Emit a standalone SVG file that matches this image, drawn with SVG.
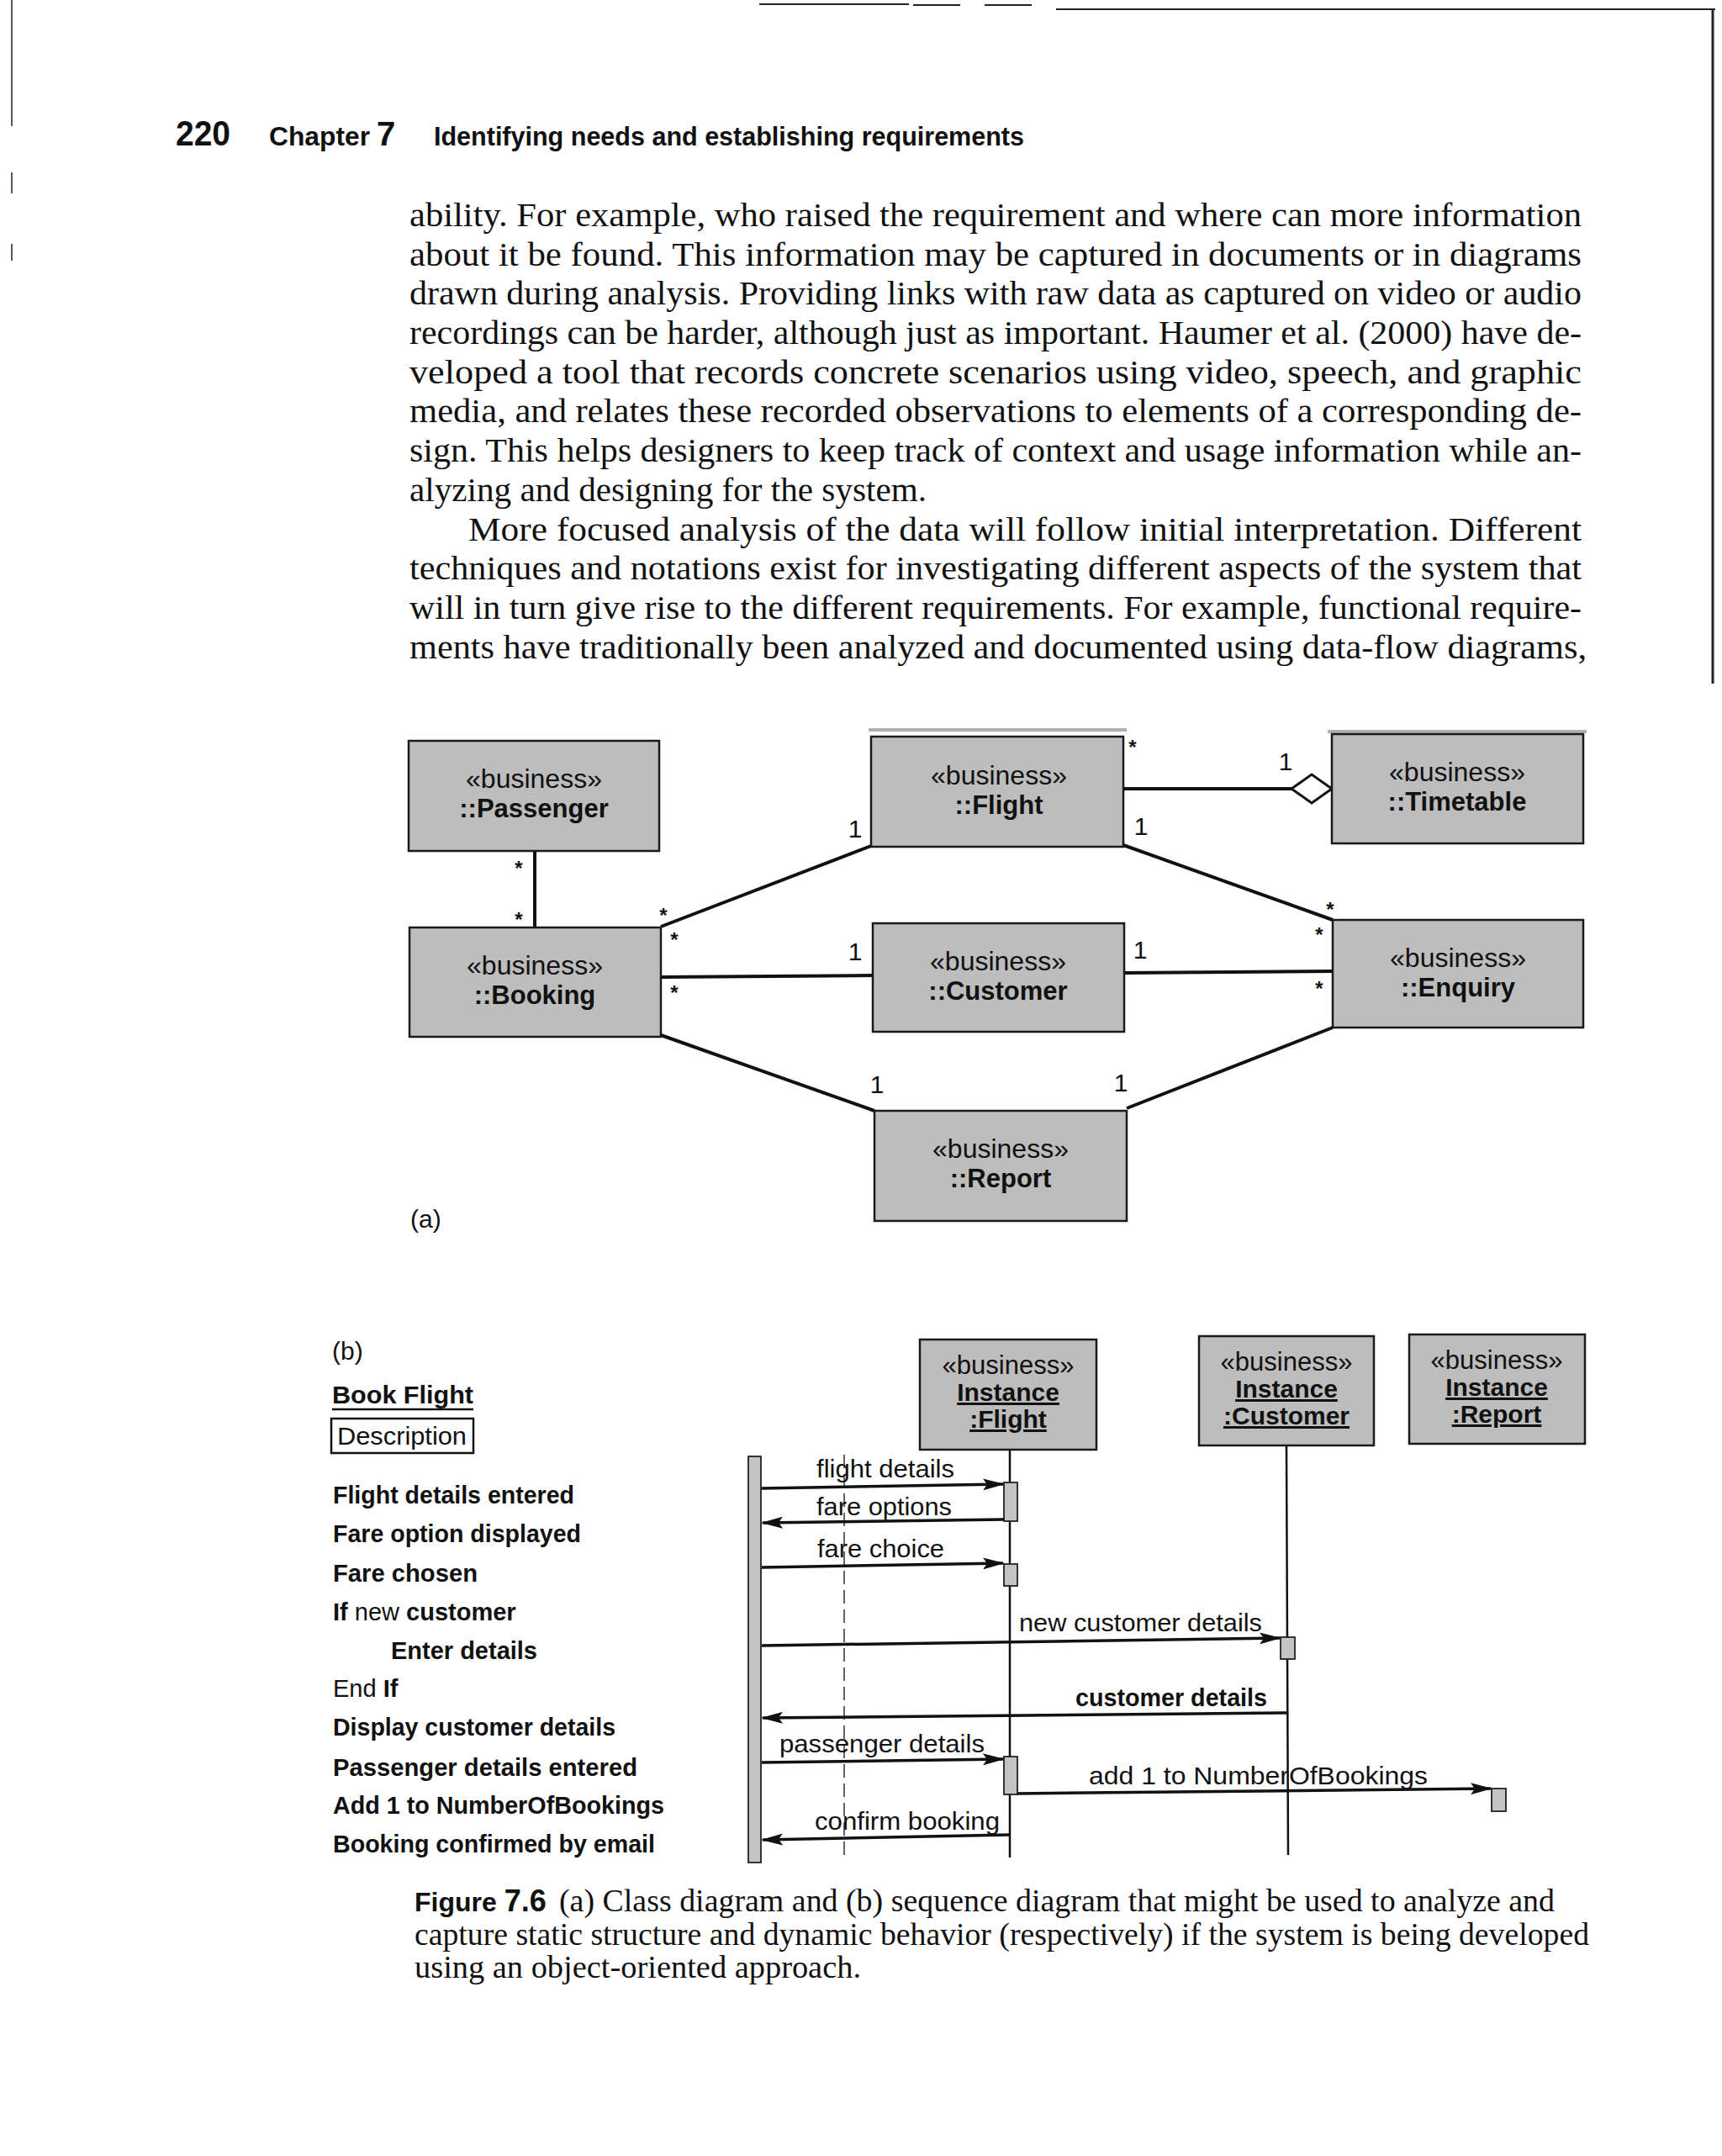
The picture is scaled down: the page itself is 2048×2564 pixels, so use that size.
<svg xmlns="http://www.w3.org/2000/svg" width="2048" height="2564" viewBox="0 0 2048 2564">
<style>
.serif{font-family:"Liberation Serif","Times New Roman",serif;font-size:39px;fill:#111}
.cap{font-family:"Liberation Serif","Times New Roman",serif;font-size:38px;fill:#111}
.hd{font-family:"Liberation Sans",Arial,sans-serif;font-weight:bold;fill:#111}
.box{fill:#bdbdbd;stroke:#1a1a1a;stroke-width:2.5}
.act{fill:#c4c4c4;stroke:#222;stroke-width:1.8}
.st{font-family:"Liberation Sans",Arial,sans-serif;font-size:32px;fill:#111;text-anchor:middle}
.nm{font-family:"Liberation Sans",Arial,sans-serif;font-size:31px;font-weight:bold;fill:#111;text-anchor:middle}
.inm{font-family:"Liberation Sans",Arial,sans-serif;font-size:30px;font-weight:bold;fill:#111;text-anchor:middle;text-decoration:underline}
.ist{font-family:"Liberation Sans",Arial,sans-serif;font-size:31px;fill:#111;text-anchor:middle}
.mul{font-family:"Liberation Sans",Arial,sans-serif;font-size:30px;fill:#111;text-anchor:middle}
.star{font-family:"Liberation Sans",Arial,sans-serif;font-size:24px;font-weight:bold;fill:#111;text-anchor:middle}
.assoc{stroke:#111;stroke-width:4;fill:none}
.msg{stroke:#111;stroke-width:3.5;fill:none;marker-end:url(#arr)}
.lbl{font-family:"Liberation Sans",Arial,sans-serif;font-size:30px;fill:#111}
.lt{font-family:"Liberation Sans",Arial,sans-serif;font-size:29px;font-weight:bold;fill:#111}
.edge{stroke:#222;fill:none}
</style>
<defs>
<marker id="arr" markerUnits="userSpaceOnUse" markerWidth="26" markerHeight="14" refX="24" refY="7" orient="auto">
<path d="M0,0 L26,7 L0,14 L5,7 Z" fill="#111"/>
</marker>
</defs>
<rect width="2048" height="2564" fill="#ffffff"/>

<!-- page edges (scan) -->
<g id="page-edges">
<line class="edge" x1="903" y1="5" x2="1081" y2="5" stroke-width="2"/>
<line class="edge" x1="1086" y1="6" x2="1142" y2="6" stroke-width="2"/>
<line class="edge" x1="1171" y1="6" x2="1227" y2="6" stroke-width="2"/>
<line class="edge" x1="1256" y1="11" x2="2040" y2="11" stroke-width="2"/>
<line class="edge" x1="2037" y1="11" x2="2037" y2="813" stroke-width="3"/>
<line class="edge" x1="14" y1="0" x2="14" y2="150" stroke-width="1.5"/>
<line class="edge" x1="14" y1="205" x2="14" y2="230" stroke-width="1.5"/>
<line class="edge" x1="14" y1="290" x2="14" y2="310" stroke-width="1.5"/>
</g>

<!-- header -->
<g id="header">
<text class="hd" x="209" y="173" font-size="42" textLength="65" lengthAdjust="spacingAndGlyphs">220</text>
<text class="hd" x="320" y="173" font-size="32" textLength="120" lengthAdjust="spacingAndGlyphs">Chapter</text>
<text class="hd" x="448" y="173" font-size="40">7</text>
<text class="hd" x="516" y="173" font-size="32" textLength="702" lengthAdjust="spacingAndGlyphs">Identifying needs and establishing requirements</text>
</g>

<!-- body text -->
<g id="body-text">
<text class="serif" x="487" y="269" textLength="1394" lengthAdjust="spacingAndGlyphs">ability. For example, who raised the requirement and where can more information</text>
<text class="serif" x="487" y="316" textLength="1394" lengthAdjust="spacingAndGlyphs">about it be found. This information may be captured in documents or in diagrams</text>
<text class="serif" x="487" y="362" textLength="1394" lengthAdjust="spacingAndGlyphs">drawn during analysis. Providing links with raw data as captured on video or audio</text>
<text class="serif" x="487" y="409" textLength="1394" lengthAdjust="spacingAndGlyphs">recordings can be harder, although just as important. Haumer et al. (2000) have de-</text>
<text class="serif" x="487" y="456" textLength="1394" lengthAdjust="spacingAndGlyphs">veloped a tool that records concrete scenarios using video, speech, and graphic</text>
<text class="serif" x="487" y="502" textLength="1394" lengthAdjust="spacingAndGlyphs">media, and relates these recorded observations to elements of a corresponding de-</text>
<text class="serif" x="487" y="549" textLength="1394" lengthAdjust="spacingAndGlyphs">sign. This helps designers to keep track of context and usage information while an-</text>
<text class="serif" x="487" y="596" textLength="615" lengthAdjust="spacingAndGlyphs">alyzing and designing for the system.</text>
<text class="serif" x="557" y="643" textLength="1324" lengthAdjust="spacingAndGlyphs">More focused analysis of the data will follow initial interpretation. Different</text>
<text class="serif" x="487" y="689" textLength="1394" lengthAdjust="spacingAndGlyphs">techniques and notations exist for investigating different aspects of the system that</text>
<text class="serif" x="487" y="736" textLength="1394" lengthAdjust="spacingAndGlyphs">will in turn give rise to the different requirements. For example, functional require-</text>
<text class="serif" x="487" y="783" textLength="1400" lengthAdjust="spacingAndGlyphs">ments have traditionally been analyzed and documented using data-flow diagrams,</text>
</g>

<!-- (a) class diagram -->
<line x1="1033" y1="868" x2="1340" y2="868" stroke="#b0b0b0" stroke-width="4"/>
<line x1="1579" y1="870" x2="1887" y2="870" stroke="#b0b0b0" stroke-width="4"/>

<g id="class-connectors">
<line class="assoc" x1="636" y1="1012" x2="636" y2="1103" stroke-width="3"/>
<line class="assoc" x1="1336" y1="938" x2="1536" y2="938"/>
<polygon points="1536,938 1560,921 1584,938 1560,955" fill="#ffffff" stroke="#111" stroke-width="3"/>
<line class="assoc" x1="1036" y1="1006" x2="786" y2="1102"/>
<line class="assoc" x1="1336" y1="1005" x2="1585" y2="1094"/>
<line class="assoc" x1="786" y1="1162" x2="1038" y2="1160"/>
<line class="assoc" x1="1337" y1="1157" x2="1585" y2="1155"/>
<line class="assoc" x1="786" y1="1231" x2="1040" y2="1321"/>
<line class="assoc" x1="1585" y1="1222" x2="1340" y2="1318"/>
<text class="star" x="1347" y="897">*</text>
<text class="mul" x="1529" y="916">1</text>
<text class="mul" x="1017" y="996">1</text>
<text class="mul" x="1357" y="993">1</text>
<text class="star" x="617" y="1041">*</text>
<text class="star" x="617" y="1102">*</text>
<text class="star" x="789" y="1097">*</text>
<text class="star" x="802" y="1126">*</text>
<text class="star" x="802" y="1189">*</text>
<text class="mul" x="1017" y="1142">1</text>
<text class="mul" x="1356" y="1140">1</text>
<text class="star" x="1582" y="1090">*</text>
<text class="star" x="1569" y="1120">*</text>
<text class="star" x="1569" y="1184">*</text>
<text class="mul" x="1043" y="1300">1</text>
<text class="mul" x="1333" y="1298">1</text>
</g>

<g id="node-passenger">
<rect class="box" x="486" y="881" width="298" height="131"/>
<text class="st" x="635" y="937">«business»</text>
<text class="nm" x="635" y="972">::Passenger</text>
</g>
<g id="node-flight">
<rect class="box" x="1036" y="876" width="300" height="131"/>
<text class="st" x="1188" y="933">«business»</text>
<text class="nm" x="1188" y="968">::Flight</text>
</g>
<g id="node-timetable">
<rect class="box" x="1584" y="873" width="299" height="130"/>
<text class="st" x="1733" y="929">«business»</text>
<text class="nm" x="1733" y="964">::Timetable</text>
</g>
<g id="node-booking">
<rect class="box" x="487" y="1103" width="299" height="130"/>
<text class="st" x="636" y="1159">«business»</text>
<text class="nm" x="636" y="1194">::Booking</text>
</g>
<g id="node-customer">
<rect class="box" x="1038" y="1098" width="299" height="129"/>
<text class="st" x="1187" y="1154">«business»</text>
<text class="nm" x="1187" y="1189">::Customer</text>
</g>
<g id="node-enquiry">
<rect class="box" x="1585" y="1094" width="298" height="128"/>
<text class="st" x="1734" y="1150">«business»</text>
<text class="nm" x="1734" y="1185">::Enquiry</text>
</g>
<g id="node-report">
<rect class="box" x="1040" y="1321" width="300" height="131"/>
<text class="st" x="1190" y="1377">«business»</text>
<text class="nm" x="1190" y="1412">::Report</text>
</g>
<text class="lbl" x="488" y="1460">(a)</text>

<!-- (b) sequence diagram -->
<g id="use-case-text">
<text class="lbl" x="395" y="1617">(b)</text>
<text class="lt" x="395" y="1669" font-size="30" textLength="168" lengthAdjust="spacingAndGlyphs">Book Flight</text>
<line x1="395" y1="1676" x2="563" y2="1676" stroke="#111" stroke-width="2.5"/>
<rect x="394" y="1687" width="169" height="41" fill="none" stroke="#111" stroke-width="2.5"/>
<text class="lbl" x="401" y="1718" textLength="154" lengthAdjust="spacingAndGlyphs">Description</text>
<text class="lt" x="396" y="1788" textLength="287" lengthAdjust="spacingAndGlyphs">Flight details entered</text>
<text class="lt" x="396" y="1834" textLength="295" lengthAdjust="spacingAndGlyphs">Fare option displayed</text>
<text class="lt" x="396" y="1881" textLength="172" lengthAdjust="spacingAndGlyphs">Fare chosen</text>
<text class="lt" x="396" y="1927">If<tspan font-weight="normal"> new</tspan> customer</text>
<text class="lt" x="465" y="1973" textLength="174" lengthAdjust="spacingAndGlyphs">Enter details</text>
<text class="lt" x="396" y="2018"><tspan font-weight="normal">End</tspan> If</text>
<text class="lt" x="396" y="2064" textLength="336" lengthAdjust="spacingAndGlyphs">Display customer details</text>
<text class="lt" x="396" y="2112" textLength="362" lengthAdjust="spacingAndGlyphs">Passenger details entered</text>
<text class="lt" x="396" y="2157" font-weight="normal" textLength="394" lengthAdjust="spacingAndGlyphs">Add 1 to NumberOfBookings</text>
<text class="lt" x="396" y="2203" textLength="383" lengthAdjust="spacingAndGlyphs">Booking confirmed by email</text>
</g>

<g id="seq-lifelines">
<line x1="1004" y1="1730" x2="1004" y2="2209" stroke="#333" stroke-width="1.5" stroke-dasharray="16 7"/>
<line x1="1201" y1="1724" x2="1201" y2="2209" stroke="#111" stroke-width="2.5"/>
<line x1="1530" y1="1719" x2="1532" y2="2206" stroke="#111" stroke-width="2.5"/>
</g>

<g id="node-actor-bar">
<rect class="act" x="890" y="1732" width="15" height="483"/>
</g>
<g id="node-inst-flight">
<rect class="box" x="1094" y="1593" width="210" height="131"/>
<text class="ist" x="1199" y="1634">«business»</text>
<text class="inm" x="1199" y="1666">Instance</text>
<text class="inm" x="1199" y="1698">:Flight</text>
</g>
<g id="node-inst-customer">
<rect class="box" x="1426" y="1589" width="208" height="130"/>
<text class="ist" x="1530" y="1630">«business»</text>
<text class="inm" x="1530" y="1662">Instance</text>
<text class="inm" x="1530" y="1694">:Customer</text>
</g>
<g id="node-inst-report">
<rect class="box" x="1676" y="1587" width="209" height="130"/>
<text class="ist" x="1780" y="1628">«business»</text>
<text class="inm" x="1780" y="1660">Instance</text>
<text class="inm" x="1780" y="1692">:Report</text>
</g>

<g id="seq-activations">
<rect class="act" x="1194" y="1763" width="16" height="46"/>
<rect class="act" x="1194" y="1860" width="16" height="26"/>
<rect class="act" x="1194" y="2089" width="16" height="45"/>
<rect class="act" x="1523" y="1947" width="17" height="26"/>
<rect class="act" x="1774" y="2127" width="17" height="27"/>
</g>

<g id="seq-messages">
<line class="msg" x1="906" y1="1770" x2="1193" y2="1765"/>
<line class="msg" x1="1194" y1="1807" x2="907" y2="1811"/>
<line class="msg" x1="906" y1="1864" x2="1193" y2="1859"/>
<line class="msg" x1="906" y1="1957" x2="1522" y2="1948"/>
<line class="msg" x1="1531" y1="2037" x2="907" y2="2043"/>
<line class="msg" x1="906" y1="2096" x2="1193" y2="2092"/>
<line class="msg" x1="1210" y1="2133" x2="1773" y2="2127"/>
<line class="msg" x1="1201" y1="2182" x2="907" y2="2188"/>
<text class="lbl" x="971" y="1757" textLength="164" lengthAdjust="spacingAndGlyphs">flight details</text>
<text class="lbl" x="971" y="1802" textLength="161" lengthAdjust="spacingAndGlyphs">fare options</text>
<text class="lbl" x="972" y="1852" textLength="151" lengthAdjust="spacingAndGlyphs">fare choice</text>
<text class="lbl" x="1212" y="1940" textLength="289" lengthAdjust="spacingAndGlyphs">new customer details</text>
<text class="lbl" x="1279" y="2029" font-weight="bold" textLength="228" lengthAdjust="spacingAndGlyphs">customer details</text>
<text class="lbl" x="927" y="2084" textLength="244" lengthAdjust="spacingAndGlyphs">passenger details</text>
<text class="lbl" x="1295" y="2122" textLength="403" lengthAdjust="spacingAndGlyphs">add 1 to NumberOfBookings</text>
<text class="lbl" x="969" y="2176" textLength="220" lengthAdjust="spacingAndGlyphs">confirm booking</text>
</g>

<!-- caption -->
<g id="caption">
<text class="hd" x="493" y="2273" font-size="32">Figure <tspan font-size="36">7.6</tspan></text>
<text class="cap" x="665" y="2273" textLength="1184" lengthAdjust="spacingAndGlyphs">(a) Class diagram and (b) sequence diagram that might be used to analyze and</text>
<text class="cap" x="493" y="2313" textLength="1397" lengthAdjust="spacingAndGlyphs">capture static structure and dynamic behavior (respectively) if the system is being developed</text>
<text class="cap" x="493" y="2352" textLength="531" lengthAdjust="spacingAndGlyphs">using an object-oriented approach.</text>
</g>
</svg>
